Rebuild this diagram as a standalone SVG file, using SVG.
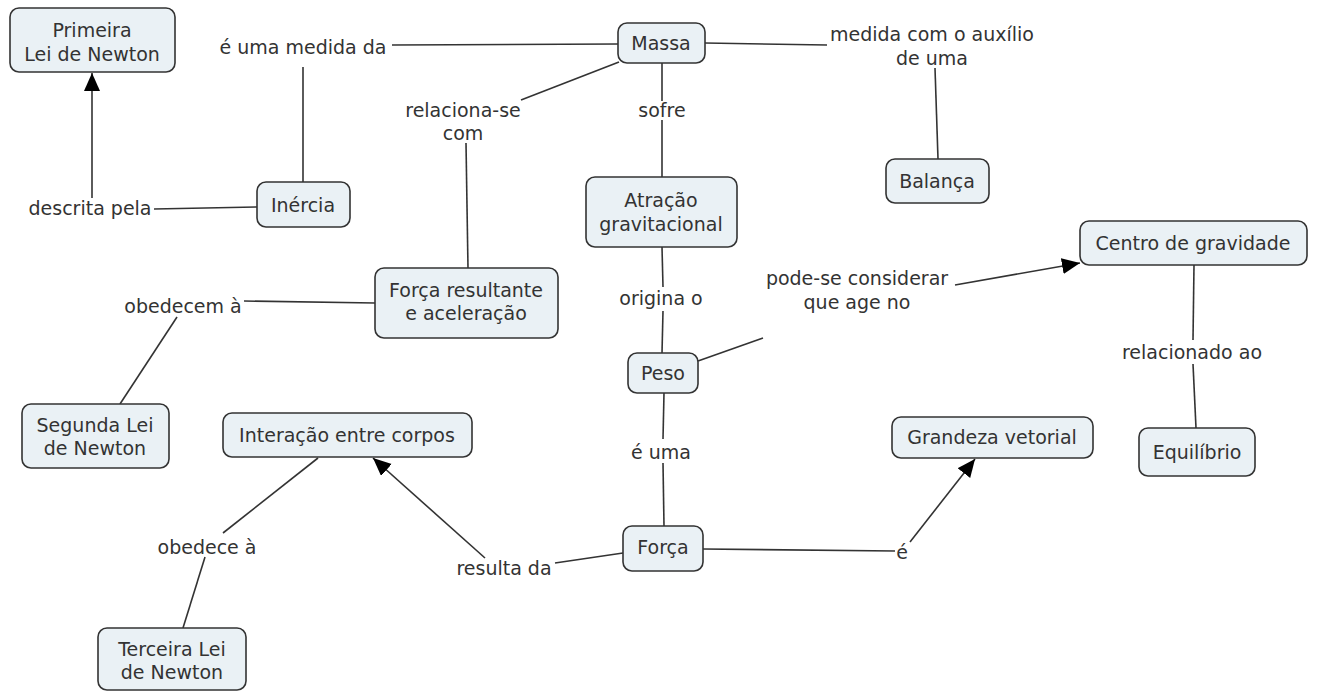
<svg xmlns="http://www.w3.org/2000/svg" width="1318" height="691" viewBox="0 0 1318 691">
<style>
.n rect{fill:#eaf1f5;stroke:#333;stroke-width:1.6}
text{font-family:"DejaVu Sans","Verdana",sans-serif;font-size:19px;fill:#333;text-anchor:middle;dominant-baseline:central}
.c line{stroke:#333;stroke-width:1.6;fill:none}
</style>
<defs>
<marker id="ah" markerUnits="userSpaceOnUse" markerWidth="20" markerHeight="18" refX="18" refY="8" orient="auto"><path d="M0,0 L18,8 L0,16 Z" fill="#000"/></marker>
</defs>
<rect width="1318" height="691" fill="#fff"/>
<g class="c" id="connectors">
<line x1="92" y1="198" x2="92" y2="73" marker-end="url(#ah)"/>
<line x1="154" y1="209" x2="257" y2="207"/>
<line x1="392" y1="45" x2="618" y2="44"/>
<line x1="303" y1="67" x2="303" y2="182"/>
<line x1="619" y1="62" x2="521" y2="100"/>
<line x1="466" y1="143" x2="468" y2="268"/>
<line x1="662" y1="63" x2="662" y2="101"/>
<line x1="662" y1="120" x2="662" y2="177"/>
<line x1="662" y1="247" x2="663" y2="287"/>
<line x1="663" y1="311" x2="662" y2="353"/>
<line x1="698" y1="361" x2="763" y2="338"/>
<line x1="664" y1="393" x2="663" y2="439"/>
<line x1="663" y1="463" x2="664" y2="526"/>
<line x1="705" y1="43" x2="827" y2="45"/>
<line x1="935" y1="68" x2="938" y2="159"/>
<line x1="955" y1="285" x2="1080" y2="263" marker-end="url(#ah)"/>
<line x1="1194" y1="265" x2="1193" y2="340"/>
<line x1="1193" y1="364" x2="1196" y2="428"/>
<line x1="375" y1="303" x2="244" y2="301"/>
<line x1="177" y1="317" x2="120" y2="404"/>
<line x1="318" y1="458" x2="223" y2="533"/>
<line x1="205" y1="557" x2="183" y2="628"/>
<line x1="623" y1="553" x2="555" y2="563"/>
<line x1="485" y1="558" x2="373" y2="458" marker-end="url(#ah)"/>
<line x1="703" y1="549" x2="895" y2="551"/>
<line x1="910" y1="542" x2="975" y2="459" marker-end="url(#ah)"/>
</g>
<g id="labels">
<text x="303" y="47">é uma medida da</text>
<text x="90" y="208">descrita pela</text>
<text x="463" y="110">relaciona-se</text>
<text x="463" y="133">com</text>
<text x="662" y="110">sofre</text>
<text x="932" y="34">medida com o auxílio</text>
<text x="932" y="58">de uma</text>
<text x="661" y="298">origina o</text>
<text x="857" y="278">pode-se considerar</text>
<text x="857" y="302">que age no</text>
<text x="1192" y="352">relacionado ao</text>
<text x="183" y="306">obedecem à</text>
<text x="661" y="452">é uma</text>
<text x="902" y="552">é</text>
<text x="504" y="568">resulta da</text>
<text x="207" y="547">obedece à</text>
</g>
<g class="n" id="primeira"><rect x="10" y="8" width="165" height="64" rx="9"/><text x="92" y="30">Primeira</text><text x="92" y="54">Lei de Newton</text></g>
<g class="n" id="inercia"><rect x="257" y="182" width="93" height="45" rx="9"/><text x="303" y="205">Inércia</text></g>
<g class="n" id="massa"><rect x="618" y="23" width="87" height="40" rx="9"/><text x="661" y="43">Massa</text></g>
<g class="n" id="atracao"><rect x="586" y="177" width="151" height="70" rx="9"/><text x="661" y="200">Atração</text><text x="661" y="224">gravitacional</text></g>
<g class="n" id="balanca"><rect x="886" y="159" width="103" height="44" rx="9"/><text x="937" y="181">Balança</text></g>
<g class="n" id="centro"><rect x="1080" y="221" width="227" height="44" rx="9"/><text x="1193" y="243">Centro de gravidade</text></g>
<g class="n" id="forcares"><rect x="375" y="268" width="183" height="70" rx="9"/><text x="466" y="290">Força resultante</text><text x="466" y="313">e aceleração</text></g>
<g class="n" id="peso"><rect x="628" y="353" width="70" height="40" rx="9"/><text x="663" y="373">Peso</text></g>
<g class="n" id="segunda"><rect x="22" y="404" width="147" height="64" rx="9"/><text x="95" y="425">Segunda Lei</text><text x="95" y="448">de Newton</text></g>
<g class="n" id="interacao"><rect x="223" y="413" width="249" height="44" rx="9"/><text x="347" y="435">Interação entre corpos</text></g>
<g class="n" id="grandeza"><rect x="892" y="417" width="201" height="41" rx="9"/><text x="992" y="437">Grandeza vetorial</text></g>
<g class="n" id="equilibrio"><rect x="1139" y="428" width="116" height="48" rx="9"/><text x="1197" y="452">Equilíbrio</text></g>
<g class="n" id="forca"><rect x="623" y="526" width="80" height="45" rx="9"/><text x="663" y="547">Força</text></g>
<g class="n" id="terceira"><rect x="98" y="628" width="148" height="62" rx="9"/><text x="172" y="649">Terceira Lei</text><text x="172" y="672">de Newton</text></g>
</svg>
